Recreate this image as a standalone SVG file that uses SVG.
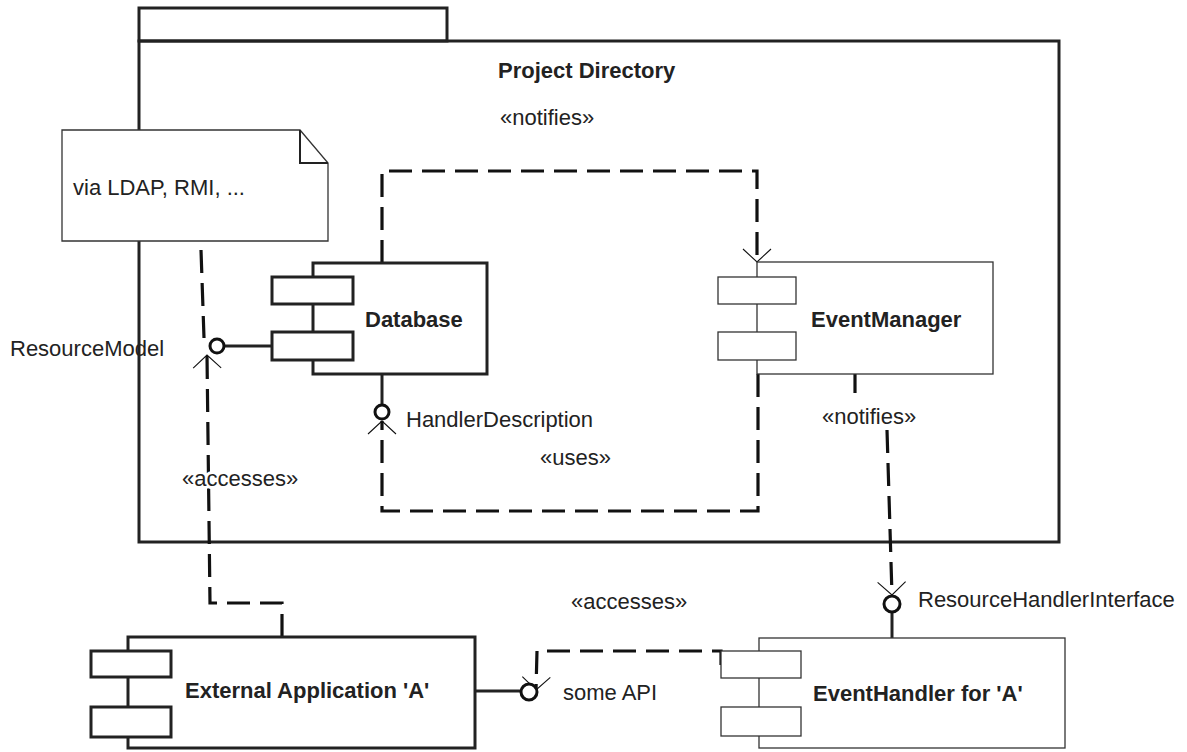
<svg xmlns="http://www.w3.org/2000/svg" width="1187" height="752" viewBox="0 0 1187 752">
<style>
  text { font-family: "Liberation Sans", Arial, sans-serif; font-size: 22px; fill: #222; }
  .b { font-weight: bold; }
  .lbl { stroke: #fff; stroke-width: 6px; paint-order: stroke; stroke-linejoin: round; }
  .pkg { fill: none; stroke: #222; stroke-width: 3; }
  .thick { fill: #fff; stroke: #222; stroke-width: 3; }
  .thin { fill: #fff; stroke: #333; stroke-width: 1.3; }
  .dash { fill: none; stroke: #111; stroke-width: 3.2; stroke-dasharray: 23 10; }
  .solid { fill: none; stroke: #222; stroke-width: 3; }
  .ball { fill: #fff; stroke: #111; stroke-width: 3; }
</style>
<defs>
  <marker id="open" markerUnits="userSpaceOnUse" markerWidth="32" markerHeight="32" refX="0" refY="0" viewBox="-16 -16 32 32" orient="auto" overflow="visible">
    <path d="M-13,-14 L0,0 L-13,14" fill="none" stroke="#111" stroke-width="1.1"/>
  </marker>
</defs>
<rect width="1187" height="752" fill="#fff"/>

<g id="package">
  <rect class="pkg" x="139" y="8" width="308" height="33"/>
  <rect class="pkg" x="139" y="41" width="920" height="501"/>
  <text class="b" x="498" y="78">Project Directory</text>
</g>

<g id="note">
  <path class="thin" d="M62,130 L300,130 L328,163 L328,241 L62,241 Z"/>
  <path d="M300,130 L300,163 L328,163" fill="none" stroke="#222" stroke-width="2"/>
  <text x="73" y="195">via LDAP, RMI, ...</text>
</g>

<g id="connectors">
  <!-- note anchor -->
  <path class="dash" d="M201,250 L204,338"/>
  <!-- accesses (External App -> ResourceModel) -->
  <path class="dash" d="M282,637 L282,603 L210,603 L207,355" marker-end="url(#open)"/>
  <!-- notifies (Database -> EventManager) -->
  <path class="dash" d="M382,263 L382,171 L757,171 L757,262" marker-end="url(#open)"/>
  <!-- uses (EventManager -> HandlerDescription) -->
  <path class="dash" d="M758,374 L758,511 L382,511 L382,421" marker-end="url(#open)"/>
  <!-- notifies (EventManager -> ResourceHandlerInterface) -->
  <path class="dash" d="M855,374 L855,393"/>
  <path class="dash" d="M887,430 L892,595" marker-end="url(#open)"/>
  <!-- accesses (EventHandler -> some API) -->
  <path class="dash" d="M721,665 L721,651 L537,651 L536,690" marker-end="url(#open)"/>
  <!-- interface lollipops -->
  <line class="solid" x1="272" y1="346" x2="224" y2="346"/>
  <line class="solid" x1="382" y1="374" x2="382" y2="405"/>
  <line class="solid" x1="892" y1="612" x2="892" y2="638"/>
  <line class="solid" x1="475" y1="691" x2="521" y2="691"/>
</g>

<g id="ResourceModel">
  <circle class="ball" cx="217" cy="346" r="7"/>
  <text x="10" y="356">ResourceModel</text>
</g>

<g id="HandlerDescription">
  <circle class="ball" cx="382" cy="412" r="7"/>
  <text x="406" y="427">HandlerDescription</text>
</g>

<g id="ResourceHandlerInterface">
  <circle class="ball" cx="892" cy="604" r="8"/>
  <text x="918" y="607">ResourceHandlerInterface</text>
</g>

<g id="someAPI">
  <circle class="ball" cx="529" cy="692" r="8"/>
  <text x="563" y="700">some API</text>
</g>

<g id="Database">
  <rect class="thick" x="313" y="263" width="174" height="111"/>
  <rect class="thick" x="272" y="277" width="81" height="27"/>
  <rect class="thick" x="272" y="332" width="81" height="28"/>
  <text class="b" x="365" y="327">Database</text>
</g>

<g id="EventManager">
  <rect class="thin" x="757" y="262" width="236" height="112"/>
  <rect class="thin" x="718" y="277" width="78" height="27"/>
  <rect class="thin" x="718" y="332" width="78" height="28"/>
  <text class="b" x="811" y="327">EventManager</text>
</g>

<g id="ExternalApplication">
  <rect class="thick" x="128" y="637" width="347" height="111"/>
  <rect class="thick" x="91" y="651" width="80" height="26"/>
  <rect class="thick" x="91" y="707" width="80" height="30"/>
  <text class="b" x="185" y="698">External Application 'A'</text>
</g>

<g id="EventHandler">
  <rect class="thin" x="759" y="638" width="306" height="110"/>
  <rect class="thin" x="721" y="651" width="80" height="27"/>
  <rect class="thin" x="721" y="707" width="80" height="29"/>
  <text class="b" x="813" y="701">EventHandler for 'A'</text>
</g>

<g id="labels">
  <text x="500" y="125">«notifies»</text>
  <text class="lbl" x="182" y="486">«accesses»</text>
  <text x="540" y="465">«uses»</text>
  <text class="lbl" x="822" y="424">«notifies»</text>
  <text x="571" y="609">«accesses»</text>
</g>
</svg>
